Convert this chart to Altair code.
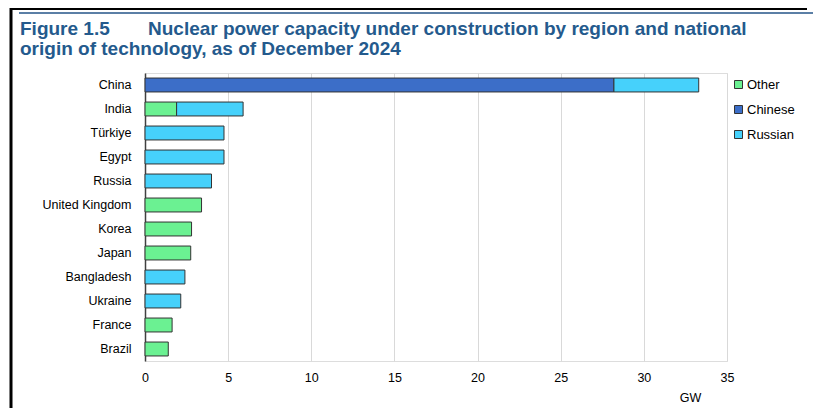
import altair as alt
import pandas as pd

countries = ["China", "India", "Türkiye", "Egypt", "Russia", "United Kingdom",
             "Korea", "Japan", "Bangladesh", "Ukraine", "France", "Brazil"]
origins = ["Other", "Chinese", "Russian"]
other_gw = [0, 1.9, 0, 0, 0, 3.4, 2.8, 2.75, 0, 0, 1.63, 1.4]
chinese_gw = [28.2, 0, 0, 0, 0, 0, 0, 0, 0, 0, 0, 0]
russian_gw = [5.1, 4.0, 4.75, 4.75, 4.0, 0, 0, 0, 2.4, 2.15, 0, 0]
colors = ["#6BF192", "#3C6EC8", "#46D1FB"]

rows = []
for i, c in enumerate(countries):
    for k, (o, vals) in enumerate(zip(origins, [other_gw, chinese_gw, russian_gw])):
        if vals[i] > 0:
            rows.append({"country": c, "origin": o, "gw": vals[i], "ord": k})
df = pd.DataFrame(rows)

FONT = "Liberation Sans"
W, H = 582, 288

bars = alt.Chart(df).mark_bar(stroke="#333333", strokeWidth=1).encode(
    y=alt.Y("country:N", sort=countries,
            scale=alt.Scale(paddingInner=0.42, paddingOuter=0.21),
            axis=alt.Axis(title=None, ticks=False, grid=False, domain=True,
                          domainColor="#404040", domainWidth=1.5,
                          labelFontSize=12.5, labelColor="#000000",
                          labelFont=FONT, labelPadding=14)),
    x=alt.X("gw:Q", stack="zero",
            scale=alt.Scale(domain=[0, 35], nice=False),
            axis=alt.Axis(values=[0, 5, 10, 15, 20, 25, 30, 35], format="d",
                          labelFlush=False,
                          title="GW", titleFontWeight="normal", titleFontSize=12.5,
                          titleFont=FONT, titleColor="#000000",
                          titleX=545, titleY=30, titleAlign="center",
                          domain=False, ticks=False, grid=True,
                          gridColor="#d9d9d9", gridWidth=1,
                          labelFontSize=12.5, labelColor="#000000",
                          labelFont=FONT, labelPadding=10)),
    color=alt.Color("origin:N", sort=origins,
                    scale=alt.Scale(domain=origins, range=colors),
                    legend=alt.Legend(title=None, orient="none", legendX=587,
                                      legendY=5, symbolType="square",
                                      symbolSize=64, symbolStrokeColor="#333333",
                                      symbolStrokeWidth=1, labelFontSize=13,
                                      labelFont=FONT, labelColor="#000000",
                                      rowPadding=11, labelOffset=2, padding=0)),
    order=alt.Order("ord:Q"),
)

one = pd.DataFrame({"a": [0]})
TCOL = "#245A8D"
TFS = 19
t1 = alt.Chart(one).mark_text(align="left", baseline="alphabetic", font=FONT,
                              fontSize=TFS, fontWeight="bold", color=TCOL).encode(
    x=alt.value(-125), y=alt.value(-38), text=alt.value("Figure 1.5"))
t2 = alt.Chart(one).mark_text(align="left", baseline="alphabetic", font=FONT,
                              fontSize=TFS, fontWeight="bold", color=TCOL).encode(
    x=alt.value(3), y=alt.value(-38),
    text=alt.value("Nuclear power capacity under construction by region and national"))
t3 = alt.Chart(one).mark_text(align="left", baseline="alphabetic", font=FONT,
                              fontSize=TFS, fontWeight="bold", color=TCOL).encode(
    x=alt.value(-125), y=alt.value(-18),
    text=alt.value("origin of technology, as of December 2024"))
title_rule = alt.Chart(one).mark_rule(color="#5B7FA6", strokeWidth=2).encode(
    x=alt.value(-126), x2=alt.value(668), y=alt.value(-60))
top_border = alt.Chart(one).mark_rule(color="#000000", strokeWidth=2).encode(
    x=alt.value(-135), x2=alt.value(662), y=alt.value(-64))
left_border = alt.Chart(one).mark_rule(color="#000000", strokeWidth=3).encode(
    x=alt.value(-134), y=alt.value(-65), y2=alt.value(335))

chart = alt.layer(bars, t1, t2, t3, title_rule, top_border, left_border).properties(
    width=W, height=H,
    autosize=alt.AutoSizeParams(type="none"),
    padding={"left": 137, "top": 65, "right": 88, "bottom": 47},
).configure_view(stroke=None).configure(background="white")

chart.save("out.html", embed_options={"renderer": "svg", "actions": False})
